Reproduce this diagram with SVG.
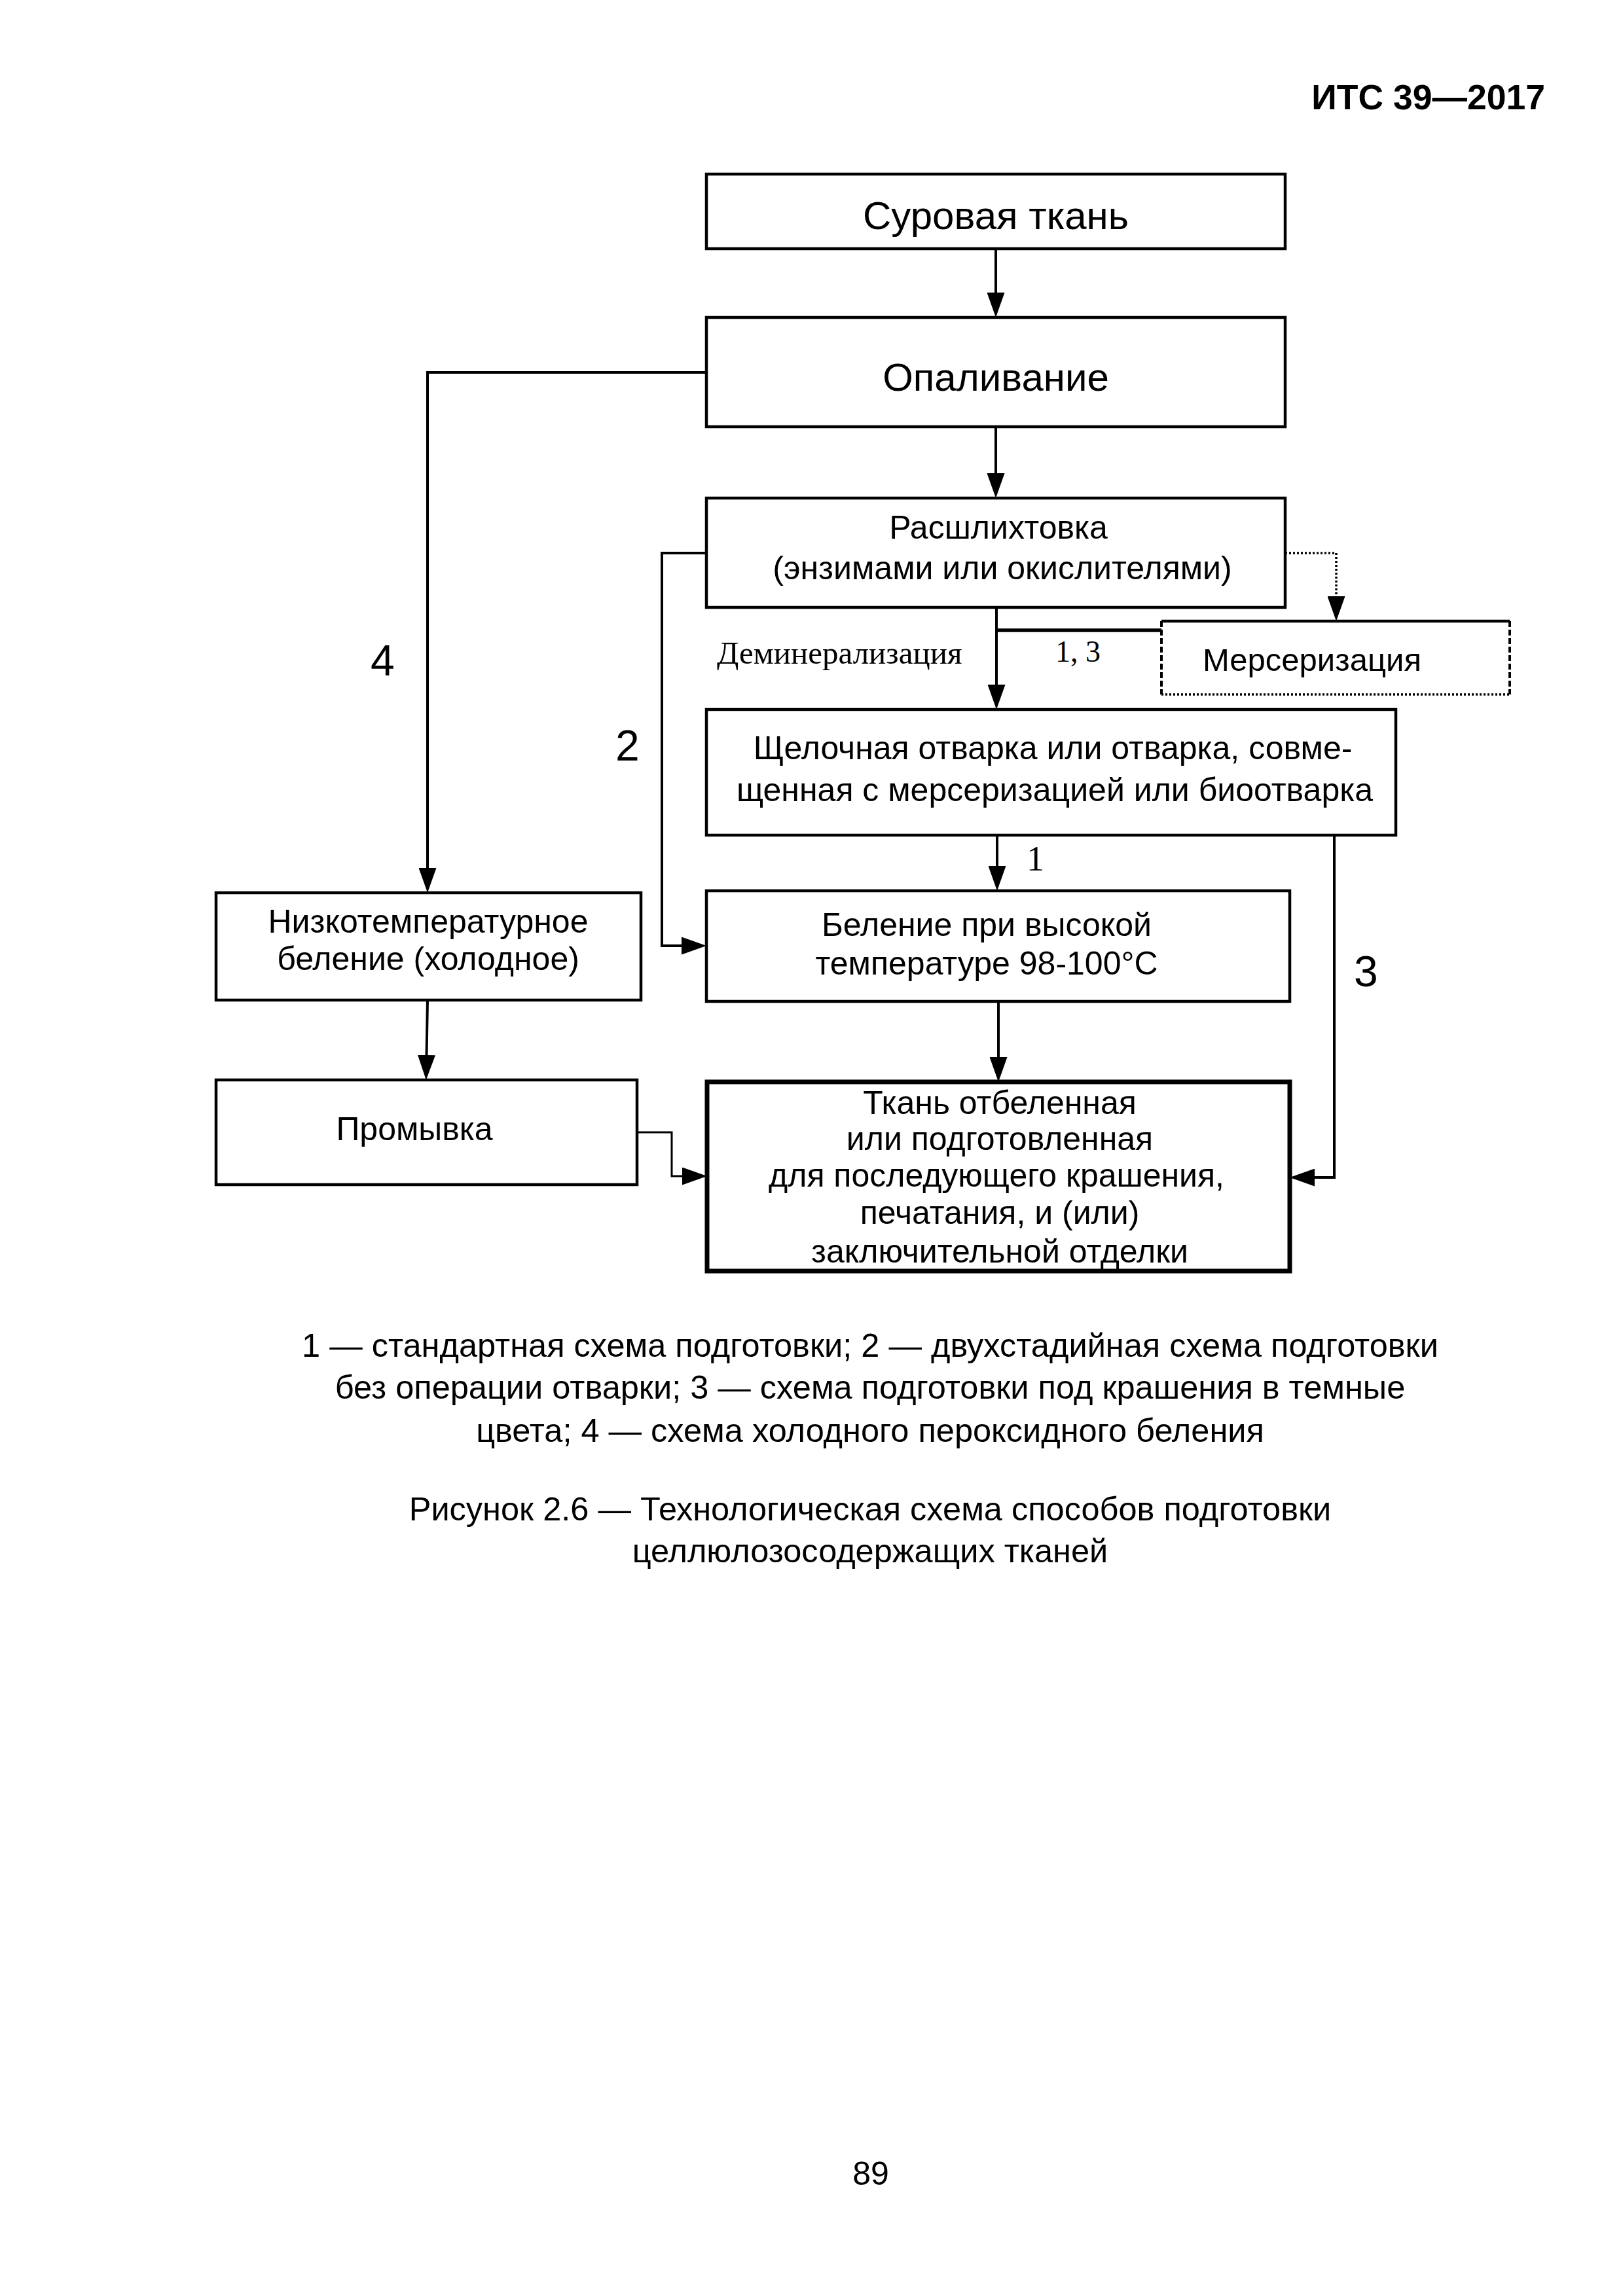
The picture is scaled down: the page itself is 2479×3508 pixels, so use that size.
<svg xmlns="http://www.w3.org/2000/svg" width="2479" height="3508" viewBox="0 0 2479 3508">
<style>
  .bg { fill: #ffffff; }
  .box { fill: none; stroke: #000; stroke-width: 4.5; }
  .boxthick { fill: none; stroke: #000; stroke-width: 7; }
  .t { font-family: "Liberation Sans", Arial, sans-serif; fill: #000; text-anchor: middle; }
  .big { font-size: 60px; }
  .mid { font-size: 50px; }
  .leg { font-size: 50.5px; }
  .num { font-family: "Liberation Sans", Arial, sans-serif; font-size: 66px; fill: #000; }
  .serif { font-family: "Liberation Serif", "Times New Roman", serif; fill: #000; }
  .conn { fill: none; stroke: #000; stroke-width: 4; }
  .thin { fill: none; stroke: #000; stroke-width: 3; }
  .dot { fill: none; stroke: #000; stroke-width: 3.5; stroke-dasharray: 3 3; }
  .dash { fill: none; stroke: #000; stroke-width: 4; stroke-dasharray: 9 4; }
</style>
<defs>
  <marker id="arr" viewBox="0 0 38 27" refX="28" refY="13.5" markerWidth="38" markerHeight="27" markerUnits="userSpaceOnUse" orient="auto">
    <path d="M0,0 L38,13.5 L0,27 Z" fill="#000"/>
  </marker>
</defs>
<rect class="bg" x="0" y="0" width="2479" height="3508"/>

<text x="2360" y="167" font-family="Liberation Sans, Arial, sans-serif" font-weight="bold" font-size="53.5" text-anchor="end">ИТС 39—2017</text>

<g id="connectors">
  <path class="conn" d="M1521,380 V475" marker-end="url(#arr)"/>
  <path class="conn" d="M1521,652 V751" marker-end="url(#arr)"/>
  <path class="conn" d="M1522,928 V1074" marker-end="url(#arr)"/>
  <path fill="none" stroke="#000" stroke-width="5.5" d="M1522,963 H1774"/>
  <path class="dot" d="M1963,845 H2041 V939" marker-end="url(#arr)"/>
  <path class="conn" d="M1079,569 H653 V1354" marker-end="url(#arr)"/>
  <path class="conn" d="M1079,845 H1011 V1445 H1069" marker-end="url(#arr)"/>
  <path class="conn" d="M1523,1276 V1351" marker-end="url(#arr)"/>
  <path class="conn" d="M2038,1276 V1799 H1980" marker-end="url(#arr)"/>
  <path class="conn" d="M1525,1530 V1643" marker-end="url(#arr)"/>
  <path class="conn" d="M653,1528 L651,1640" marker-end="url(#arr)"/>
  <path class="thin" d="M973,1730 H1026 V1797 H1070" marker-end="url(#arr)"/>
</g>

<g id="labels">
  <text class="num" x="566" y="1032">4</text>
  <text class="num" x="940" y="1162">2</text>
  <text class="num" x="2068" y="1507">3</text>
  <text class="serif" x="1095" y="1014" font-size="49">Деминерализация</text>
  <text class="serif" x="1612" y="1011" font-size="46">1, 3</text>
  <text class="serif" x="1568" y="1330" font-size="54">1</text>
</g>

<g id="n-surovaya">
  <rect class="box" x="1079" y="266" width="884" height="114"/>
  <text class="t big" x="1521" y="350">Суровая ткань</text>
</g>
<g id="n-opalivanie">
  <rect class="box" x="1079" y="485" width="884" height="167"/>
  <text class="t big" x="1521" y="597">Опаливание</text>
</g>
<g id="n-rasshlikhtovka">
  <rect class="box" x="1079" y="761" width="884" height="167"/>
  <text class="t mid" x="1525" y="823">Расшлихтовка</text>
  <text class="t mid" x="1531" y="885">(энзимами или окислителями)</text>
</g>
<g id="n-merserizatsiya">
  <path fill="none" stroke="#000" stroke-width="4.5" d="M1774,949 H2306"/>
  <path class="dash" d="M1774,949 V1061"/>
  <path class="dash" d="M2306,949 V1061"/>
  <path class="dot" d="M1774,1061 H2306"/>
  <text class="t" x="1837" y="1025" font-size="49" style="text-anchor:start">Мерсеризация</text>
</g>
<g id="n-shchelochnaya">
  <rect class="box" x="1079" y="1084" width="1053" height="192"/>
  <text class="t mid" x="1608" y="1160">Щелочная отварка или отварка, совме-</text>
  <text class="t mid" x="1611" y="1224">щенная с мерсеризацией или биоотварка</text>
</g>
<g id="n-nizkotemp">
  <rect class="box" x="330" y="1364" width="649" height="164"/>
  <text class="t mid" x="654" y="1425">Низкотемпературное</text>
  <text class="t mid" x="654" y="1482">беление (холодное)</text>
</g>
<g id="n-belenie">
  <rect class="box" x="1079" y="1361" width="891" height="169"/>
  <text class="t mid" x="1507" y="1430">Беление при высокой</text>
  <text class="t mid" x="1507" y="1489">температуре 98-100°С</text>
</g>
<g id="n-promyvka">
  <rect class="box" x="330" y="1650" width="643" height="160"/>
  <text class="t mid" x="633" y="1742">Промывка</text>
</g>
<g id="n-tkan">
  <rect class="boxthick" x="1080" y="1653" width="890" height="289"/>
  <text class="t mid" x="1527" y="1702">Ткань отбеленная</text>
  <text class="t mid" x="1527" y="1757">или подготовленная</text>
  <text class="t mid" x="1522" y="1813">для последующего крашения,</text>
  <text class="t mid" x="1527" y="1870">печатания, и (или)</text>
  <text class="t mid" x="1527" y="1929">заключительной отделки</text>
</g>

<g id="caption">
  <text class="t leg" x="1329" y="2073">1 — стандартная схема подготовки; 2 — двухстадийная схема подготовки</text>
  <text class="t leg" x="1329" y="2137">без операции отварки; 3 — схема подготовки под крашения в темные</text>
  <text class="t leg" x="1329" y="2203">цвета; 4 — схема холодного пероксидного беления</text>
  <text class="t leg" x="1329" y="2323">Рисунок 2.6 — Технологическая схема способов подготовки</text>
  <text class="t leg" x="1329" y="2387">целлюлозосодержащих тканей</text>
</g>

<text class="t mid" x="1330" y="3338">89</text>
</svg>
